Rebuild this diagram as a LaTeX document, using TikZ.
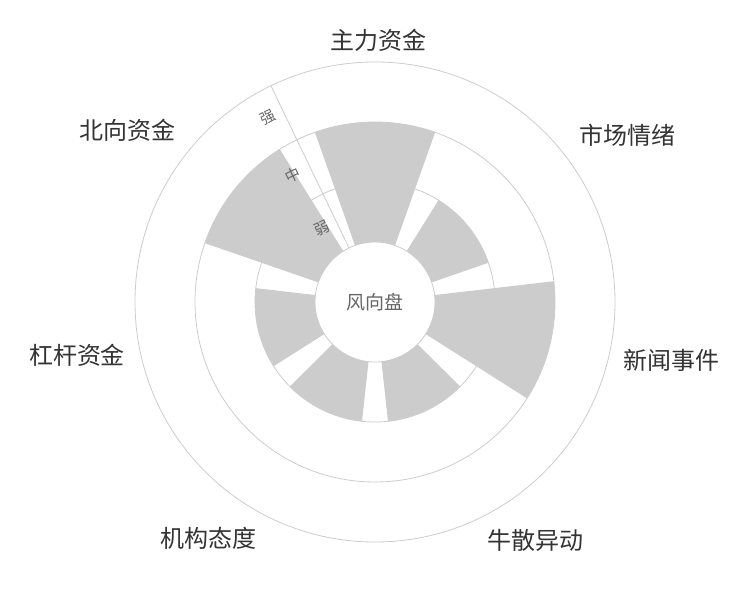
\documentclass[tikz,border=0pt]{standalone}
\usepackage{fontspec}
\setmainfont{Noto Sans CJK SC}
\begin{document}
\begin{tikzpicture}[x=1pt,y=1pt,
  ring/.style={draw=black!20,line width=0.8pt},
  bar/.style={fill=black!20},
  cat/.style={text=black!80,font=\fontsize{24}{24}\selectfont},
  lvl/.style={text=black!60,font=\fontsize{15}{15}\selectfont,rotate=25.7}]
\useasboundingbox (0,0) rectangle (750,600);
\coordinate (c) at (375,298);
\begin{scope}[shift={(375,298)}]
\foreach \r in {120,180,240} \draw[ring] (0,0) circle (\r);
\foreach \a/\R in {90/180,38.57/120,-12.86/180,-64.29/120,-115.71/120,-167.14/120,141.43/180}{
  \fill[bar] (\a-19.5:60) arc[start angle=\a-19.5,end angle=\a+19.5,radius=60]
    -- (\a+19.5:\R) arc[start angle=\a+19.5,end angle=\a-19.5,radius=\R] -- cycle;
}
\draw[ring] (0,0) circle (60);
\draw[ring] (115.71:60) -- (115.71:240);
\end{scope}
\node[text=black!60,font=\fontsize{19}{19}\selectfont] (ctr) at (c) {风向盘};
\node[lvl] (w) at (322,372) {弱};
\node[lvl] (m) at (293,425) {中};
\node[lvl] (s) at (268,482) {强};
\node[cat] (n1) at (378,560) {主力资金};
\node[cat] (n2) at (627,465) {市场情绪};
\node[cat] (n3) at (671,240) {新闻事件};
\node[cat] (n4) at (535,60) {牛散异动};
\node[cat] (n5) at (208,62) {机构态度};
\node[cat] (n6) at (77,245) {杠杆资金};
\node[cat] (n7) at (127,470) {北向资金};
\end{tikzpicture}
\end{document}
